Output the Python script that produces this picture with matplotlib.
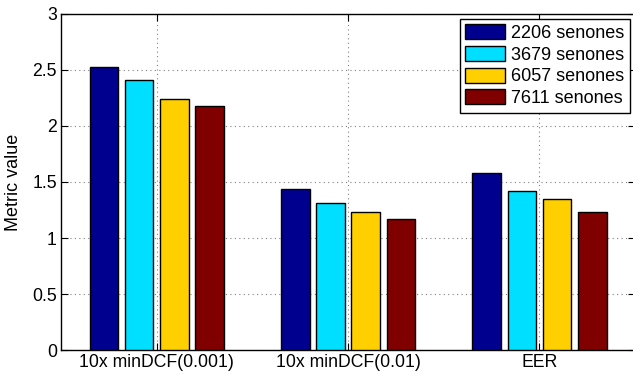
import matplotlib.pyplot as plt
import numpy as np

# Data
categories = ['10x minDCF(0.001)', '10x minDCF(0.01)', 'EER']
series = ['2206 senones', '3679 senones', '6057 senones', '7611 senones']
values = [
    [2.53, 1.44, 1.58],
    [2.41, 1.31, 1.42],
    [2.24, 1.23, 1.35],
    [2.18, 1.17, 1.23],
]
colors = ['#00008F', '#00DFFF', '#FFCF00', '#800000']

plt.rcParams['font.family'] = ['Liberation Sans', 'DejaVu Sans']
plt.rc('font', size=12.7)

fig = plt.figure(figsize=(6.33, 3.76), dpi=100)
ax = fig.add_axes([0.0964, 0.069, 0.907, 0.894])

x = np.arange(1, len(categories) + 1)
pitch = 0.184
width = 0.15
for i, (name, vals) in enumerate(zip(series, values)):
    offset = (i - 1.5) * pitch
    ax.bar(x + offset, vals, width, color=colors[i], edgecolor='black',
           linewidth=1, label=name, zorder=3)

ax.set_xlim(0.5, 3.5)
ax.set_ylim(0, 3)
ax.set_xticks(x)
ax.set_xticklabels(categories)
ax.set_yticks(np.arange(0, 3.01, 0.5))
ax.set_yticklabels(['0', '0.5', '1', '1.5', '2', '2.5', '3'])
ax.set_ylabel('Metric value', fontsize=13, labelpad=7)
ax.grid(True, linestyle=(0, (1, 3)), color='#808080', linewidth=0.8, zorder=0)
ax.tick_params(direction='in', top=True, right=True, length=5, pad=3)
for s in ax.spines.values():
    s.set_linewidth(1)

leg = ax.legend(loc='upper right', fancybox=False, framealpha=1, edgecolor='black',
                handlelength=2.2, handleheight=0.9, handletextpad=0.35,
                labelspacing=0.22, borderpad=0.3, borderaxespad=0.28, fontsize=13)
leg.get_frame().set_linewidth(1)

plt.savefig('out.png', dpi=100)
